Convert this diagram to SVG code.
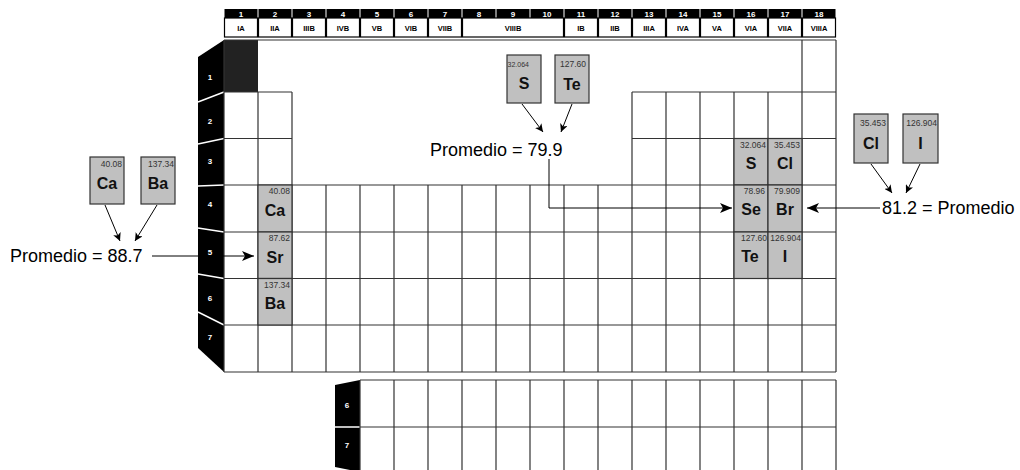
<svg xmlns="http://www.w3.org/2000/svg" width="1020" height="470" viewBox="0 0 1020 470">
<defs>
<style>
.grid{fill:none;stroke:#333;stroke-width:1.2}
.el{fill:#c0c0c0;stroke:#333;stroke-width:1.2}
.mass{font-family:"Liberation Sans",Arial,sans-serif;font-size:8.5px;fill:#333;text-anchor:end}
.sym{font-family:"Liberation Sans",Arial,sans-serif;font-size:16px;font-weight:bold;fill:#111;text-anchor:middle}
.hn{font-family:"Liberation Sans",Arial,sans-serif;font-size:8px;font-weight:bold;fill:#fff;text-anchor:middle}
.hl{font-family:"Liberation Sans",Arial,sans-serif;font-size:7.5px;font-weight:bold;fill:#000;text-anchor:middle}
.hb{fill:#000}
.hw{fill:#fff;stroke:#000;stroke-width:1.2}
.pn{font-family:"Liberation Sans",Arial,sans-serif;font-size:8px;font-weight:bold;fill:#fff;text-anchor:middle}
.big{font-family:"Liberation Sans",Arial,sans-serif;font-size:18px;fill:#000}
.sep{stroke:#fff;stroke-width:1.5}
.conn{fill:none;stroke:#000;stroke-width:1}
</style>
<marker id="ab" markerUnits="userSpaceOnUse" viewBox="0 0 12 10" markerWidth="12" markerHeight="10" refX="12" refY="5" orient="auto"><path d="M0,0 L12,5 L0,10 L3,5 z" fill="#000"/></marker>
<marker id="as" markerUnits="userSpaceOnUse" viewBox="0 0 8 8" markerWidth="8" markerHeight="8" refX="8" refY="4" orient="auto"><path d="M0,0 L8,4 L0,8 L2,4 z" fill="#000"/></marker>
</defs>
<rect width="1020" height="470" fill="#fff"/>

<g id="header">
<rect class="hb" x="224.5" y="9" width="33" height="9"/><rect class="hw" x="224.5" y="18" width="33" height="19"/>
<rect class="hb" x="258.5" y="9" width="33" height="9"/><rect class="hw" x="258.5" y="18" width="33" height="19"/>
<rect class="hb" x="292.5" y="9" width="33" height="9"/><rect class="hw" x="292.5" y="18" width="33" height="19"/>
<rect class="hb" x="326.5" y="9" width="33" height="9"/><rect class="hw" x="326.5" y="18" width="33" height="19"/>
<rect class="hb" x="360.5" y="9" width="33" height="9"/><rect class="hw" x="360.5" y="18" width="33" height="19"/>
<rect class="hb" x="394.5" y="9" width="33" height="9"/><rect class="hw" x="394.5" y="18" width="33" height="19"/>
<rect class="hb" x="428.5" y="9" width="33" height="9"/><rect class="hw" x="428.5" y="18" width="33" height="19"/>
<rect class="hb" x="462.5" y="9" width="33" height="9"/>
<rect class="hb" x="496.5" y="9" width="33" height="9"/>
<rect class="hb" x="530.5" y="9" width="33" height="9"/>
<rect class="hw" x="462.5" y="18" width="101" height="19"/>
<rect class="hb" x="564.5" y="9" width="33" height="9"/><rect class="hw" x="564.5" y="18" width="33" height="19"/>
<rect class="hb" x="598.5" y="9" width="33" height="9"/><rect class="hw" x="598.5" y="18" width="33" height="19"/>
<rect class="hb" x="632.5" y="9" width="33" height="9"/><rect class="hw" x="632.5" y="18" width="33" height="19"/>
<rect class="hb" x="666.5" y="9" width="33" height="9"/><rect class="hw" x="666.5" y="18" width="33" height="19"/>
<rect class="hb" x="700.5" y="9" width="33" height="9"/><rect class="hw" x="700.5" y="18" width="33" height="19"/>
<rect class="hb" x="734.5" y="9" width="33" height="9"/><rect class="hw" x="734.5" y="18" width="33" height="19"/>
<rect class="hb" x="768.5" y="9" width="33" height="9"/><rect class="hw" x="768.5" y="18" width="33" height="19"/>
<rect class="hb" x="802.5" y="9" width="33" height="9"/><rect class="hw" x="802.5" y="18" width="33" height="19"/>
<text class="hn" x="241" y="16.5">1</text><text class="hn" x="275" y="16.5">2</text><text class="hn" x="309" y="16.5">3</text><text class="hn" x="343" y="16.5">4</text><text class="hn" x="377" y="16.5">5</text><text class="hn" x="411" y="16.5">6</text><text class="hn" x="445" y="16.5">7</text><text class="hn" x="479" y="16.5">8</text><text class="hn" x="513" y="16.5">9</text><text class="hn" x="547" y="16.5">10</text><text class="hn" x="581" y="16.5">11</text><text class="hn" x="615" y="16.5">12</text><text class="hn" x="649" y="16.5">13</text><text class="hn" x="683" y="16.5">14</text><text class="hn" x="717" y="16.5">15</text><text class="hn" x="751" y="16.5">16</text><text class="hn" x="785" y="16.5">17</text><text class="hn" x="819" y="16.5">18</text>
<text class="hl" x="241" y="30.5">IA</text><text class="hl" x="275" y="30.5">IIA</text><text class="hl" x="309" y="30.5">IIIB</text><text class="hl" x="343" y="30.5">IVB</text><text class="hl" x="377" y="30.5">VB</text><text class="hl" x="411" y="30.5">VIB</text><text class="hl" x="445" y="30.5">VIIB</text><text class="hl" x="513" y="30.5">VIIIB</text><text class="hl" x="581" y="30.5">IB</text><text class="hl" x="615" y="30.5">IIB</text><text class="hl" x="649" y="30.5">IIIA</text><text class="hl" x="683" y="30.5">IVA</text><text class="hl" x="717" y="30.5">VA</text><text class="hl" x="751" y="30.5">VIA</text><text class="hl" x="785" y="30.5">VIIA</text><text class="hl" x="819" y="30.5">VIIIA</text>
</g>

<g id="period-tabs">
<polygon points="198,57 224,40 224,372 198,348" fill="#000"/>
<line class="sep" x1="198" y1="102" x2="224" y2="92"/>
<line class="sep" x1="198" y1="144" x2="224" y2="138.5"/>
<line class="sep" x1="198" y1="186" x2="224" y2="185"/>
<line class="sep" x1="198" y1="228" x2="224" y2="232"/>
<line class="sep" x1="198" y1="274" x2="224" y2="278.5"/>
<line class="sep" x1="198" y1="312" x2="224" y2="325"/>
<text class="pn" x="210" y="80">1</text><text class="pn" x="210" y="124">2</text><text class="pn" x="210" y="164">3</text><text class="pn" x="210" y="207">4</text><text class="pn" x="210" y="255">5</text><text class="pn" x="210" y="301">6</text><text class="pn" x="210" y="340">7</text>
</g>

<g id="table-grid">
<rect x="224" y="40" width="34" height="52" fill="#222"/>
<path class="grid" d="M224 40H836 M224 92H292 M632 92H836 M224 138.5H292 M632 138.5H836 M224 185H836 M224 232H836 M224 278.5H836 M224 325H836 M224 372H836 M224 40V372 M258 92V372 M292 92V372 M326 185V372 M360 185V372 M394 185V372 M428 185V372 M462 185V372 M496 185V372 M530 185V372 M564 185V372 M598 185V372 M632 92V372 M666 92V372 M700 92V372 M734 92V372 M768 92V372 M802 40V372 M836 40V372"/>
</g>

<g id="cell-Ca"><rect class="el" x="258" y="185" width="34" height="47"/><text class="mass" x="290" y="194">40.08</text><text class="sym" x="275" y="216">Ca</text></g>
<g id="cell-Sr"><rect class="el" x="258" y="232" width="34" height="46.5"/><text class="mass" x="290" y="241">87.62</text><text class="sym" x="275" y="263">Sr</text></g>
<g id="cell-Ba"><rect class="el" x="258" y="278.5" width="34" height="46.5"/><text class="mass" x="290" y="287.5">137.34</text><text class="sym" x="275" y="309">Ba</text></g>
<g id="cell-S"><rect class="el" x="734" y="138.5" width="34" height="46.5"/><text class="mass" x="766" y="148">32.064</text><text class="sym" x="751" y="169">S</text></g>
<g id="cell-Cl"><rect class="el" x="768" y="138.5" width="34" height="46.5"/><text class="mass" x="800" y="148">35.453</text><text class="sym" x="785" y="169">Cl</text></g>
<g id="cell-Se"><rect class="el" x="734" y="185" width="34" height="47"/><text class="mass" x="765" y="194">78.96</text><text class="sym" x="751" y="215">Se</text></g>
<g id="cell-Br"><rect class="el" x="768" y="185" width="34" height="47"/><text class="mass" x="800" y="194">79.909</text><text class="sym" x="785" y="215">Br</text></g>
<g id="cell-Te"><rect class="el" x="734" y="232" width="34" height="46.5"/><text class="mass" x="767" y="241">127.60</text><text class="sym" x="750" y="262">Te</text></g>
<g id="cell-I"><rect class="el" x="768" y="232" width="34" height="46.5"/><text class="mass" x="801" y="241">126.904</text><text class="sym" x="785" y="262">I</text></g>

<g id="lanthanide-block">
<polygon points="335,385 360,380 360,472 335,467" fill="#000"/>
<line class="sep" x1="335" y1="427" x2="360" y2="427"/>
<text class="pn" x="347" y="408">6</text><text class="pn" x="347" y="448">7</text>
<path class="grid" d="M360 380H836 M360 427H836 M360 474H836 M360 380V474 M394 380V474 M428 380V474 M462 380V474 M496 380V474 M530 380V474 M564 380V474 M598 380V474 M632 380V474 M666 380V474 M700 380V474 M734 380V474 M768 380V474 M802 380V474 M836 380V474"/>
</g>

<g id="box-S"><rect class="el" x="507" y="55" width="34" height="48"/><text class="mass" x="529" y="67" style="font-size:7px">32.064</text><text class="sym" x="524" y="89">S</text></g>
<g id="box-Te"><rect class="el" x="555" y="55" width="34" height="48"/><text class="mass" x="586" y="67">127.60</text><text class="sym" x="572" y="90">Te</text></g>
<g id="box-Ca"><rect class="el" x="90" y="157" width="34" height="47"/><text class="mass" x="122" y="167">40.08</text><text class="sym" x="107" y="189">Ca</text></g>
<g id="box-Ba"><rect class="el" x="141" y="157" width="34" height="47"/><text class="mass" x="174" y="167">137.34</text><text class="sym" x="158" y="189">Ba</text></g>
<g id="box-Cl"><rect class="el" x="854" y="114" width="34" height="49"/><text class="mass" x="886" y="126">35.453</text><text class="sym" x="871" y="149">Cl</text></g>
<g id="box-I"><rect class="el" x="903" y="114" width="35" height="49"/><text class="mass" x="937" y="126">126.904</text><text class="sym" x="920.5" y="149">I</text></g>

<g id="label-avg-S-Te"><text class="big" x="430" y="156">Promedio = 79.9</text></g>
<g id="label-avg-Ca-Ba"><text class="big" x="10" y="262">Promedio = 88.7</text></g>
<g id="label-avg-Cl-I"><text class="big" x="882" y="214">81.2 = Promedio</text></g>

<g id="connectors">
<line class="conn" x1="522" y1="104" x2="543" y2="132" marker-end="url(#as)"/>
<line class="conn" x1="572" y1="104" x2="561" y2="132" marker-end="url(#as)"/>
<line class="conn" x1="105" y1="205" x2="120" y2="241" marker-end="url(#as)"/>
<line class="conn" x1="157" y1="205" x2="135" y2="241" marker-end="url(#as)"/>
<line class="conn" x1="871" y1="164" x2="892" y2="193" marker-end="url(#as)"/>
<line class="conn" x1="920" y1="164" x2="906" y2="193" marker-end="url(#as)"/>
<path class="conn" d="M152 256H254" marker-end="url(#ab)"/>
<path class="conn" d="M549 159V208H732" marker-end="url(#ab)"/>
<path class="conn" d="M880 208H807" marker-end="url(#ab)"/>
</g>
</svg>
